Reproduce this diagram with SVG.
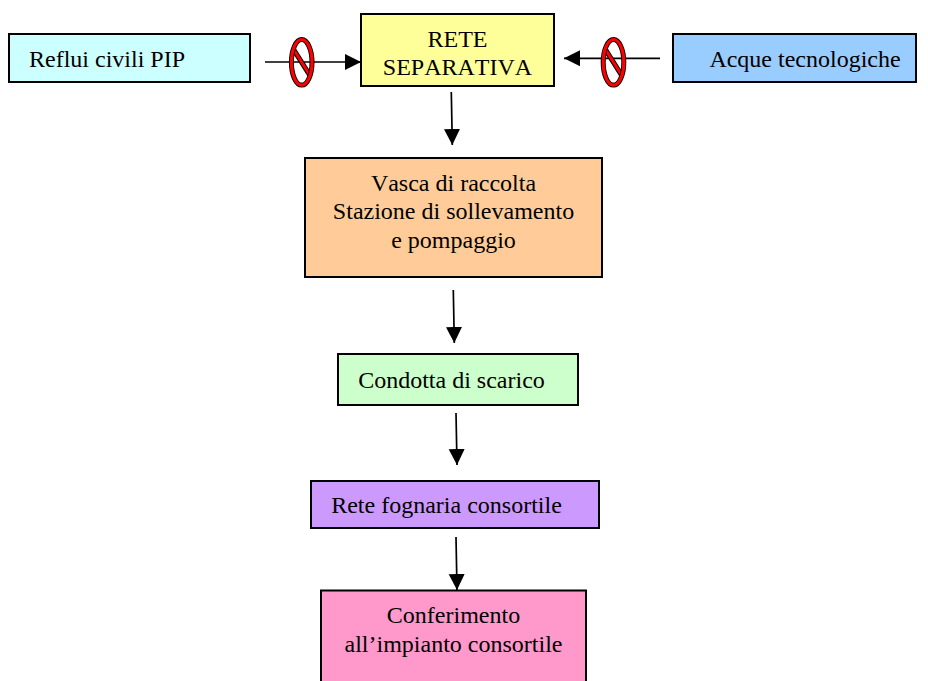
<svg xmlns="http://www.w3.org/2000/svg" width="928" height="681" viewBox="0 0 928 681">
<style>
text{font-family:"Liberation Serif","Times New Roman",serif;font-size:24px;fill:#000;text-anchor:middle;font-kerning:none}
.b{stroke:#000;stroke-width:2}
.c{stroke:#000;stroke-width:1.7;fill:none;marker-end:url(#a)}
</style>
<defs>
<marker id="a" markerUnits="userSpaceOnUse" markerWidth="18" markerHeight="18" refX="16" refY="8.500" orient="auto"><path d="M0 0.500L16 8.500L0 16.500Z" fill="#000"/></marker>
<g id="no"><path d="M-8.500 -13.500L8.500 13.500" stroke="#000" stroke-width="5"/><path d="M-8.500 -13.500L8.500 13.500" stroke="#f00" stroke-width="3"/><ellipse cx="0" cy="0" rx="10.300" ry="22.800" fill="none" stroke="#000" stroke-width="5"/><ellipse cx="0" cy="0" rx="10.300" ry="22.800" fill="none" stroke="#f00" stroke-width="3.200"/></g>
</defs>
<rect width="928" height="681" fill="#fff"/>
<g id="connectors">
<path class="c" d="M265 62H361"/>
<path class="c" d="M660 58.300H564"/>
<path class="c" d="M451.300 92L452.300 145"/>
<path class="c" d="M453.300 290L454.300 343"/>
<path class="c" d="M456 413L457 465"/>
<path class="c" d="M456 537L457 590"/>
</g>
<g id="reflui"><rect class="b" x="9" y="34" width="241" height="48" fill="#ccffff"/><text x="107" y="67">Reflui civili PIP</text></g>
<g id="rete"><rect class="b" x="361" y="14" width="193" height="72" fill="#ffff99"/><text x="457.500" y="46.500">RETE</text><text x="457.500" y="75">SEPARATIVA</text></g>
<g id="acque"><rect class="b" x="673" y="34" width="243" height="48" fill="#99ccff"/><text x="805" y="67">Acque tecnologiche</text></g>
<g id="divieto1"><use href="#no" x="301.700" y="62.300"/></g>
<g id="divieto2"><use href="#no" x="613.500" y="62.300"/></g>
<g id="vasca"><rect class="b" x="305" y="158" width="297" height="119" fill="#ffcc99"/><text x="453.500" y="190.500">Vasca di raccolta</text><text x="453.500" y="219">Stazione di sollevamento</text><text x="453.500" y="247.500">e pompaggio</text></g>
<g id="condotta"><rect class="b" x="338" y="354" width="240" height="51" fill="#ccffcc"/><text x="451.500" y="387.500">Condotta di scarico</text></g>
<g id="fogna"><rect class="b" x="311" y="481" width="288" height="47" fill="#cc99ff"/><text x="446.500" y="512.500">Rete fognaria consortile</text></g>
<g id="conferimento"><path class="b" d="M321 681V590.500H586V681" fill="#ff99cc"/><text x="453.500" y="622.500">Conferimento</text><text x="453.500" y="651.500">all’impianto consortile</text></g>
</svg>
